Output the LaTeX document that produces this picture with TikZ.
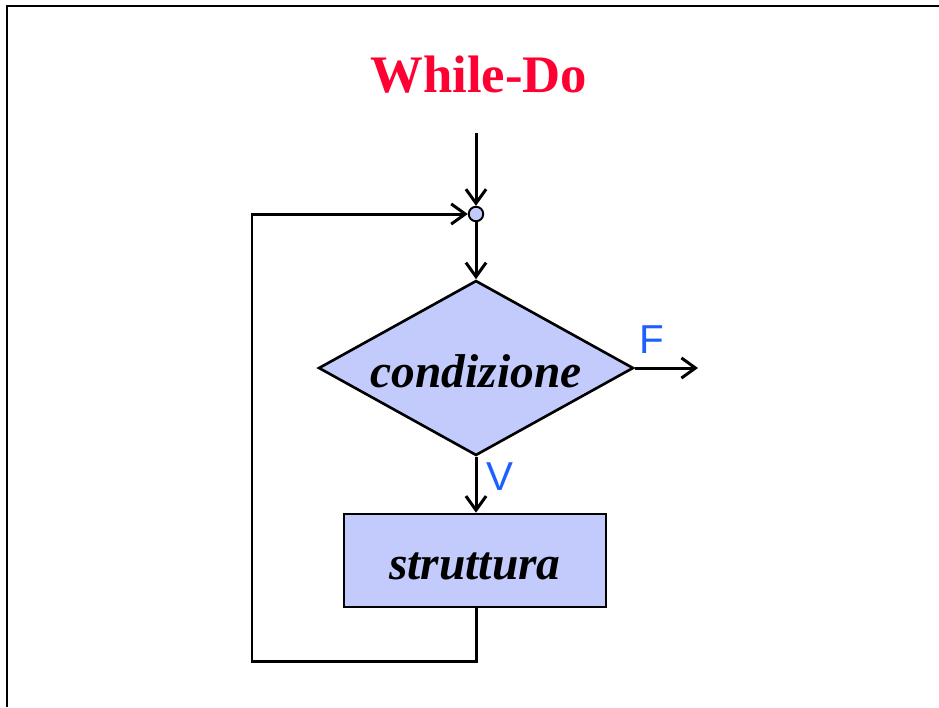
\documentclass[tikz,border=0pt]{standalone}
\usepackage{fontspec}
\setmainfont{Liberation Serif}
\newfontfamily\labelfont{Liberation Sans}
\usepackage{tikz}
\usetikzlibrary{shapes.geometric,arrows.meta}
\definecolor{boxfill}{RGB}{194,203,252}
\definecolor{titlered}{RGB}{255,0,51}
\definecolor{labelblue}{RGB}{30,95,255}
\tikzset{
  flow/.style={line width=1.7pt,-{Straight Barb[length=8pt,width=11.5pt,line width=1.7pt]}},
  block/.style={draw,line width=1.5pt,fill=boxfill,text height=22pt,text depth=0pt,font=\fontsize{27}{30}\selectfont\bfseries\itshape},
  tag/.style={text=labelblue,font=\labelfont\fontsize{23}{26}\selectfont}
}

\begin{document}
\begin{tikzpicture}[x=0.02cm,y=-0.02cm]
\useasboundingbox (0,0) rectangle (939,707);
% cornice
\draw[line width=1.6pt] (7,707) -- (7,6) -- (939,6);
% titolo
\node[text=titlered,font=\fontsize{30}{34}\selectfont\bfseries] (title) at (479,75) {While-Do};
% blocchi
\node[draw,circle,fill=boxfill,line width=1.1pt,inner sep=0pt,minimum size=0.29cm] (join) at (476,214) {};
\node[block,diamond,aspect=1.787,inner sep=0pt,minimum width=6.3cm,minimum height=3.5cm] (cond) at (476,368) {condizione};
\node[block,rectangle,minimum width=5.24cm,minimum height=1.86cm] (body) at (475,560.5) {struttura};
\coordinate (in) at (476,133);
\coordinate (out) at (698,368);
\coordinate (lb) at (252,661);
\coordinate (lt) at (252,214);
% frecce
\draw[flow] (in) -- (join);
\draw[flow] (join) -- (cond.north);
\draw[flow] (cond.east) -- (out);
\draw[flow] (cond.south) -- (cond.south |- body.north);
\draw[flow] (body.south -| cond.south) |- (lb) -- (lt) -- (join);
% etichette
\node[tag] (f) at (652,340) {F};
\node[tag] (v) at (500,477) {V};
\end{tikzpicture}
\end{document}
